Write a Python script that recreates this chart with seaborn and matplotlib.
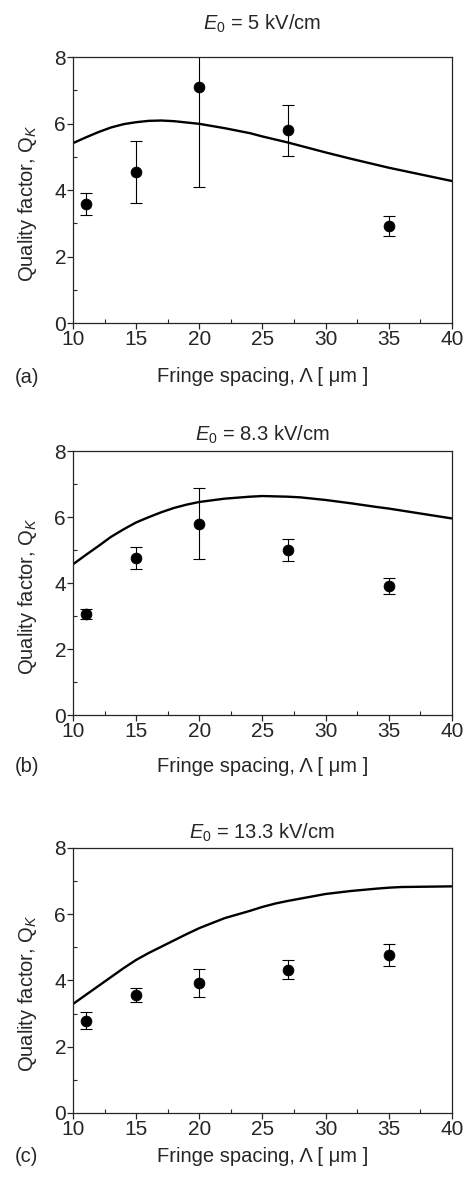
import matplotlib
matplotlib.use("Agg")
import matplotlib.pyplot as plt
from matplotlib.ticker import MultipleLocator
import seaborn as sns
import pandas as pd

# measured points (same fringe spacings in every panel)
espaco = [11, 15, 20, 27, 35]
q_a = [3.58, 4.53, 7.10, 5.79, 2.92]
err_a = [0.33, 0.93, 3.00, 0.76, 0.29]
q_b = [3.07, 4.77, 5.80, 5.00, 3.90]
err_b = [0.15, 0.33, 1.07, 0.33, 0.24]
q_c = [2.78, 3.56, 3.92, 4.32, 4.77]
err_c = [0.26, 0.21, 0.42, 0.29, 0.33]

# theory curves
x_teoria = [10, 11, 12, 13, 14, 15, 16, 17, 18, 19, 20, 22, 24, 25, 26, 27, 28, 30, 32, 34, 35, 36, 38, 40]
teo_a = [5.41, 5.58, 5.74, 5.88, 5.98, 6.04, 6.08, 6.09, 6.07, 6.03, 5.99, 5.86, 5.71, 5.61, 5.52, 5.43, 5.33, 5.13, 4.94, 4.76, 4.67, 4.59, 4.43, 4.27]
teo_b = [4.57, 4.85, 5.12, 5.40, 5.63, 5.84, 6.00, 6.15, 6.28, 6.38, 6.46, 6.56, 6.62, 6.64, 6.63, 6.62, 6.60, 6.52, 6.42, 6.31, 6.26, 6.20, 6.08, 5.96]
teo_c = [3.29, 3.56, 3.83, 4.10, 4.37, 4.62, 4.83, 5.02, 5.21, 5.40, 5.58, 5.88, 6.10, 6.22, 6.32, 6.40, 6.47, 6.61, 6.70, 6.77, 6.80, 6.82, 6.83, 6.84]

titulos = [r"$E_0$ = 5 kV/cm", r"$E_0$ = 8.3 kV/cm", r"$E_0$ = 13.3 kV/cm"]
letras = ["(a)", "(b)", "(c)"]

sns.set_style("ticks")
plt.rcParams["font.family"] = ["Liberation Sans", "DejaVu Sans"]
plt.rcParams["mathtext.fontset"] = "custom"
plt.rcParams["mathtext.rm"] = "Liberation Sans"
plt.rcParams["mathtext.it"] = "Liberation Sans:italic"

fig = plt.figure(figsize=(4.65, 11.78), dpi=100)
posicoes = [[0.157, 0.7258, 0.815, 0.2258],
            [0.157, 0.3930, 0.815, 0.2240],
            [0.157, 0.0552, 0.815, 0.2250]]
pad_titulo = [20, 7.5, 7]
xlabel_y = [-0.165, -0.159, -0.13]
letra_y = [377, 767, 1157]

dados = [(q_a, err_a, teo_a), (q_b, err_b, teo_b), (q_c, err_c, teo_c)]

for i, (q, err, teo) in enumerate(dados):
    ax = fig.add_axes(posicoes[i])
    df_teo = pd.DataFrame({"x": x_teoria, "y": teo})
    sns.lineplot(data=df_teo, x="x", y="y", ax=ax, color="black", linewidth=1.7)
    ax.errorbar(espaco, q, yerr=err, fmt="none", ecolor="black", elinewidth=0.8,
                capsize=4, capthick=0.8)
    df_pts = pd.DataFrame({"x": espaco, "y": q})
    sns.scatterplot(data=df_pts, x="x", y="y", ax=ax, color="black", s=60,
                    edgecolor="black", zorder=5)

    ax.set_xlim(10, 40)
    ax.set_ylim(0, 8)
    ax.xaxis.set_major_locator(MultipleLocator(5))
    ax.xaxis.set_minor_locator(MultipleLocator(2.5))
    ax.yaxis.set_major_locator(MultipleLocator(2))
    ax.yaxis.set_minor_locator(MultipleLocator(1))
    ax.tick_params(which="major", direction="out", length=4, width=0.9,
                   labelsize=15, pad=1)
    ax.tick_params(which="minor", direction="in", length=3, width=0.8)
    for s in ax.spines.values():
        s.set_linewidth(0.9)
        s.set_visible(True)

    ax.set_title(titulos[i], fontsize=14.5, pad=pad_titulo[i])
    ax.set_xlabel("Fringe spacing, Λ [ μm ]", fontsize=14.5)
    ax.set_ylabel(r"Quality factor, Q$_{K}$", fontsize=14.5)
    ax.xaxis.set_label_coords(0.5, xlabel_y[i])
    ax.yaxis.set_label_coords(-0.09, 0.45)

    fig.text(15 / 465, 1 - letra_y[i] / 1178, letras[i], fontsize=14.5,
             va="center", ha="left")

fig.savefig("out.png", dpi=100)
